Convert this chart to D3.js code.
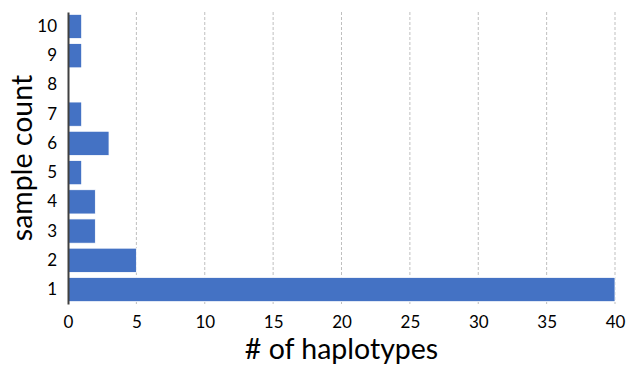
<!DOCTYPE html>
<html>
<head>
<meta charset="utf-8">
<script src="https://cdn.jsdelivr.net/npm/d3@7"></script>
<style>
  body { margin: 0; background: #fff; }
  text { font-family: Lato, "Open Sans", sans-serif; fill: #000; }
</style>
</head>
<body>
<div id="chart"></div>
<script>
// chart data
const categories = ["1", "2", "3", "4", "5", "6", "7", "8", "9", "10"];
const haplotypes = [40, 5, 2, 2, 1, 3, 1, 0, 1, 1];
const xTicks = [0, 5, 10, 15, 20, 25, 30, 35, 40];

const margin = { top: 12, right: 15, bottom: 67, left: 68 },
      width = 630 - margin.left - margin.right,
      height = 371 - margin.top - margin.bottom;

const data = categories.map((c, i) => ({ cat: c, value: haplotypes[i] }));

const x = d3.scaleLinear().domain([0, 40]).range([0, width]);
const y = d3.scaleBand().domain(categories.slice().reverse()).range([0, height]).paddingInner(0.17).paddingOuter(0.08);

const svg = d3.select("#chart")
  .append("svg")
    .attr("width", 630)
    .attr("height", 371)
  .append("g")
    .attr("transform", `translate(${margin.left},${margin.top})`);

// dashed gridlines
svg.append("g")
  .selectAll("line")
  .data(xTicks.slice(1))
  .enter().append("line")
    .attr("x1", d => x(d))
    .attr("x2", d => x(d))
    .attr("y1", 0)
    .attr("y2", height)
    .attr("stroke", "#bfbfbf")
    .attr("stroke-width", 1)
    .attr("stroke-dasharray", "3,2");

// bars
svg.selectAll(".bar")
  .data(data.filter(d => d.value > 0))
  .enter().append("rect")
    .attr("class", "bar")
    .attr("x", x(0))
    .attr("y", d => y(d.cat))
    .attr("width", d => x(d.value) - x(0))
    .attr("height", y.bandwidth())
    .attr("fill", "#4472c4")
    .attr("stroke", "#fff")
    .attr("stroke-width", 0.8);

// x axis (labels only)
const xAxis = svg.append("g")
  .attr("transform", `translate(0,${height})`)
  .call(d3.axisBottom(x).tickValues(xTicks).tickSize(0).tickPadding(12));
xAxis.select(".domain").remove();
xAxis.selectAll("text").style("font-size", "17px");

// y axis
const yAxis = svg.append("g")
  .call(d3.axisLeft(y).tickSize(0).tickPadding(11));
yAxis.select(".domain").attr("stroke", "#404040").attr("stroke-width", 2);
yAxis.selectAll("text").style("font-size", "17px");

// axis titles
svg.append("text")
  .attr("x", width / 2)
  .attr("y", height + 55)
  .attr("text-anchor", "middle")
  .style("font-size", "28.5px")
  .text("# of haplotypes");

svg.append("text")
  .attr("transform", "rotate(-90)")
  .attr("x", -height / 2)
  .attr("y", -margin.left + 32)
  .attr("text-anchor", "middle")
  .style("font-size", "28.5px")
  .text("sample count");
</script>
</body>
</html>
